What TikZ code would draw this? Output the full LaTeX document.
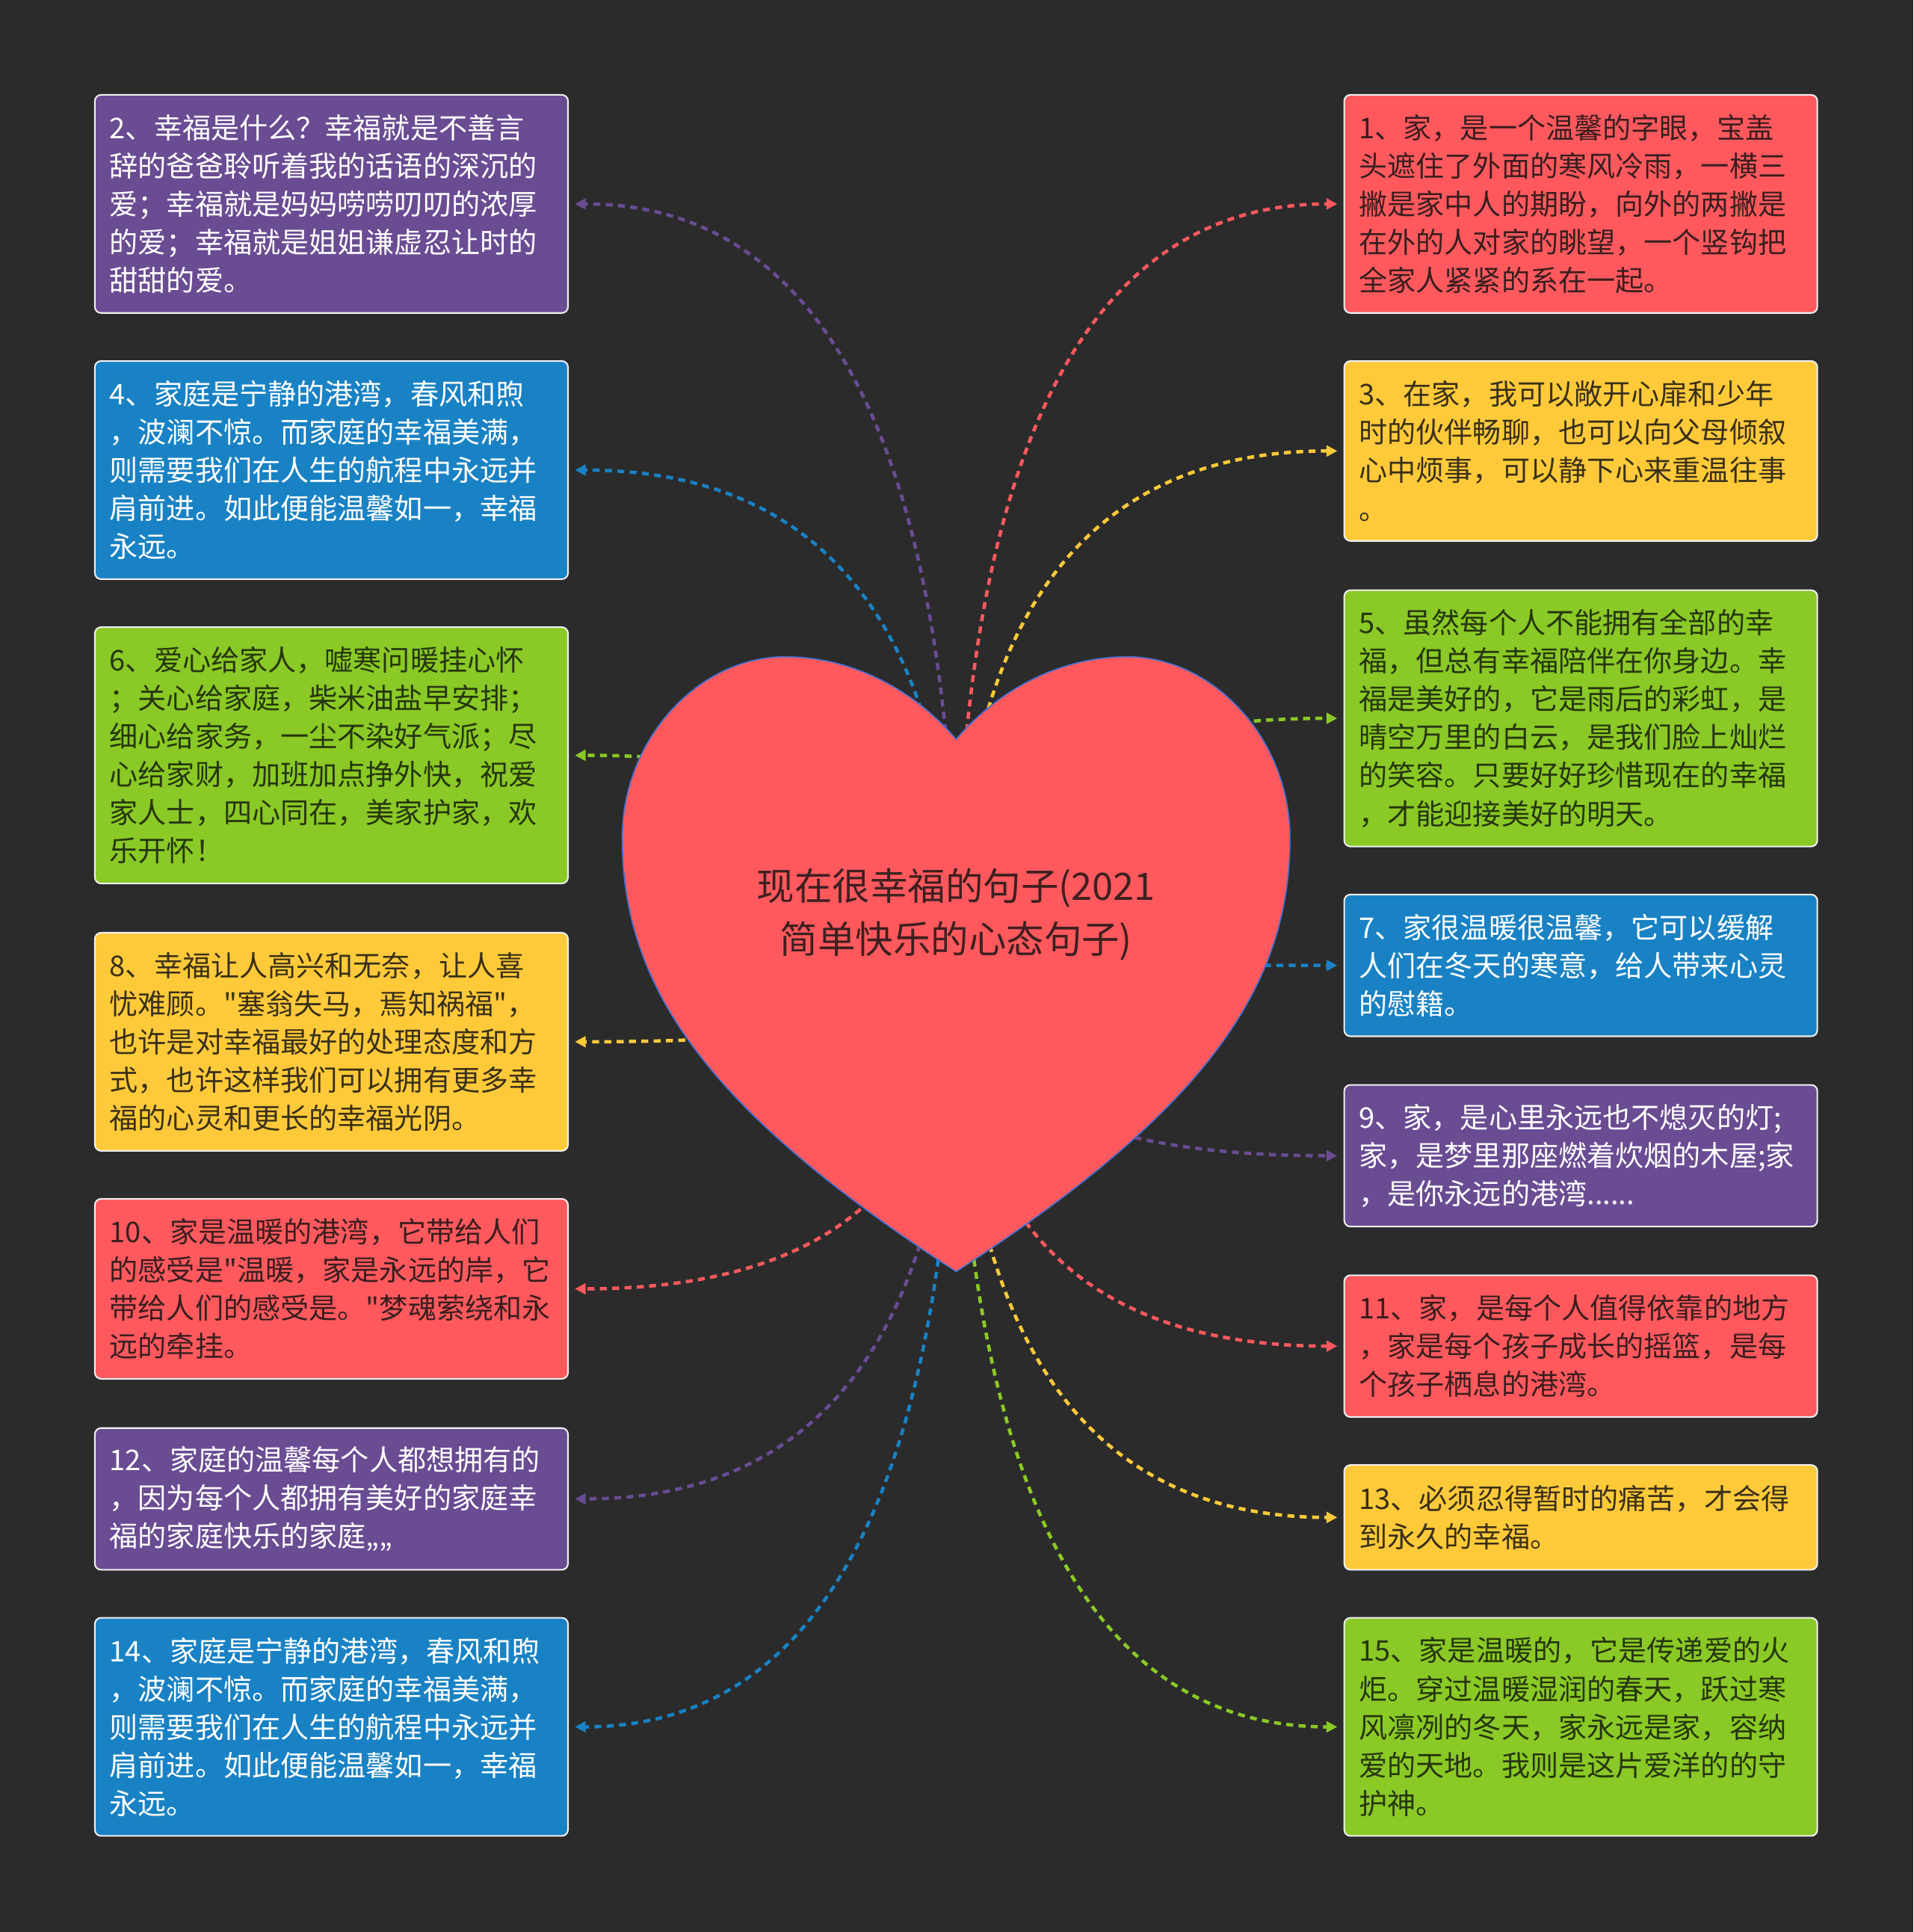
\documentclass[tikz,border=0pt]{standalone}
\usepackage{fontspec}
\usetikzlibrary{calc,arrows.meta}
\newfontfamily\cjk{Noto Sans CJK SC}
\definecolor{bgc}{HTML}{2B2B2B}
\definecolor{cred}{HTML}{FF595E}
\definecolor{cyel}{HTML}{FFCA3A}
\definecolor{cgrn}{HTML}{8AC926}
\definecolor{cblu}{HTML}{1982C4}
\definecolor{cpur}{HTML}{6A4C93}
\definecolor{tred}{HTML}{3A1E1E}
\definecolor{tyel}{HTML}{3A3018}
\definecolor{tgrn}{HTML}{26360E}
\definecolor{ttitle}{HTML}{3E2020}
\definecolor{hline}{HTML}{3F6FD0}
\pgfdeclarelayer{bg}
\pgfdeclarelayer{mid}
\pgfsetlayers{bg,mid,main}
\begin{document}
\begin{tikzpicture}[x=0.8pt,y=-0.8pt,
  box/.style={rectangle, rounded corners=4pt, draw=white!94!black, line width=1pt,
    minimum width=307.2pt, text width=288pt, align=left, inner sep=0pt,
    font={\cjk\fontsize{18.5pt}{24.8pt}\selectfont}},
  lt/.style={text=white},
  conn/.style={line width=2.2pt, dash pattern=on 4.5pt off 3.5pt,
    -{Triangle[length=7pt,width=7pt]}},
  titlestyle/.style={align=center, text=ttitle, inner sep=0pt,
    font={\cjk\fontsize{24.5pt}{34.4pt}\selectfont}}
]
\useasboundingbox (0,0) rectangle (1553,1568);
\begin{pgfonlayer}{bg}
\fill[bgc] (0,0) rectangle (1553,1568);
\end{pgfonlayer}

\coordinate (H) at (776,783);

% left boxes
\node[box, lt, fill=cpur, minimum height=141.6pt] (L2) at (269,165.5) {2、幸福是什么？幸福就是不善言\\辞的爸爸聆听着我的话语的深沉的\\爱；幸福就是妈妈唠唠叨叨的浓厚\\的爱；幸福就是姐姐谦虚忍让时的\\甜甜的爱。};
\node[box, lt, fill=cblu, minimum height=141.6pt] (L4) at (269,381.5) {4、家庭是宁静的港湾，春风和煦\\，波澜不惊。而家庭的幸福美满，\\则需要我们在人生的航程中永远并\\肩前进。如此便能温馨如一，幸福\\永远。};
\node[box, text=tgrn, fill=cgrn, minimum height=166.4pt] (L6) at (269,613) {6、爱心给家人，嘘寒问暖挂心怀\\；关心给家庭，柴米油盐早安排；\\细心给家务，一尘不染好气派；尽\\心给家财，加班加点挣外快，祝爱\\家人士，四心同在，美家护家，欢\\乐开怀！};
\node[box, text=tyel, fill=cyel, minimum height=141.6pt] (L8) at (269,845.5) {8、幸福让人高兴和无奈，让人喜\\忧难顾。"塞翁失马，焉知祸福"，\\也许是对幸福最好的处理态度和方\\式，也许这样我们可以拥有更多幸\\福的心灵和更长的幸福光阴。};
\node[box, text=tred, fill=cred, minimum height=116.8pt] (L10) at (269,1046) {10、家是温暖的港湾，它带给人们\\的感受是"温暖，家是永远的岸，它\\带给人们的感受是。"梦魂萦绕和永\\远的牵挂。};
\node[box, lt, fill=cpur, minimum height=92pt] (L12) at (269,1216.5) {12、家庭的温馨每个人都想拥有的\\，因为每个人都拥有美好的家庭幸\\福的家庭快乐的家庭„„};
\node[box, lt, fill=cblu, minimum height=141.6pt] (L14) at (269,1401.5) {14、家庭是宁静的港湾，春风和煦\\，波澜不惊。而家庭的幸福美满，\\则需要我们在人生的航程中永远并\\肩前进。如此便能温馨如一，幸福\\永远。};

% right boxes
\node[box, text=tred, fill=cred, minimum height=141.6pt] (R1) at (1283,165.5) {1、家，是一个温馨的字眼，宝盖\\头遮住了外面的寒风冷雨，一横三\\撇是家中人的期盼，向外的两撇是\\在外的人对家的眺望，一个竖钩把\\全家人紧紧的系在一起。};
\node[box, text=tyel, fill=cyel, minimum height=116.8pt] (R3) at (1283,366) {3、在家，我可以敞开心扉和少年\\时的伙伴畅聊，也可以向父母倾叙\\心中烦事，可以静下心来重温往事\\。};
\node[box, text=tgrn, fill=cgrn, minimum height=166.4pt] (R5) at (1283,583) {5、虽然每个人不能拥有全部的幸\\福，但总有幸福陪伴在你身边。幸\\福是美好的，它是雨后的彩虹，是\\晴空万里的白云，是我们脸上灿烂\\的笑容。只要好好珍惜现在的幸福\\，才能迎接美好的明天。};
\node[box, lt, fill=cblu, minimum height=92pt] (R7) at (1283,783.5) {7、家很温暖很温馨，它可以缓解\\人们在冬天的寒意，给人带来心灵\\的慰籍。};
\node[box, lt, fill=cpur, minimum height=92pt] (R9) at (1283,938) {9、家，是心里永远也不熄灭的灯;\\家，是梦里那座燃着炊烟的木屋;家\\，是你永远的港湾......};
\node[box, text=tred, fill=cred, minimum height=92pt] (R11) at (1283,1092.5) {11、家，是每个人值得依靠的地方\\，家是每个孩子成长的摇篮，是每\\个孩子栖息的港湾。};
\node[box, text=tyel, fill=cyel, minimum height=68pt] (R13) at (1283,1231.5) {13、必须忍得暂时的痛苦，才会得\\到永久的幸福。};
\node[box, text=tgrn, fill=cgrn, minimum height=141.6pt] (R15) at (1283,1401.5) {15、家是温暖的，它是传递爱的火\\炬。穿过温暖湿润的春天，跃过寒\\风凛冽的冬天，家永远是家，容纳\\爱的天地。我则是这片爱洋的的守\\护神。};

% connectors
\begin{pgfonlayer}{mid}
\foreach \n/\c in {L2/cpur, L4/cblu, L6/cgrn, L8/cyel, L10/cred, L12/cpur, L14/cblu} {
  \coordinate (e\n) at ([xshift=4pt]\n.east);
  \coordinate (q\n) at (H |- e\n);
  \draw[conn, draw=\c] (H) .. controls ($(H)!0.6667!(q\n)$) and ($(e\n)!0.6667!(q\n)$) .. (e\n);
}
\foreach \n/\c in {R1/cred, R3/cyel, R5/cgrn, R7/cblu, R9/cpur, R11/cred, R13/cyel, R15/cgrn} {
  \coordinate (e\n) at ([xshift=-4pt]\n.west);
  \coordinate (q\n) at (H |- e\n);
  \draw[conn, draw=\c] (H) .. controls ($(H)!0.6667!(q\n)$) and ($(e\n)!0.6667!(q\n)$) .. (e\n);
}
\end{pgfonlayer}

% heart
\path[fill=cred, draw=hline, line width=0.8pt]
  (776,600) .. controls (810,560) and (860,533) .. (915,533)
  .. controls (985,533) and (1047,600) .. (1047,680)
  .. controls (1047,800) and (980,900) .. (776,1032)
  .. controls (572,900) and (505,800) .. (505,680)
  .. controls (505,600) and (567,533) .. (637,533)
  .. controls (692,533) and (742,560) .. (776,600) -- cycle;
\node[titlestyle] (title) at (776,742) {现在很幸福的句子(2021\\简单快乐的心态句子)};
\end{tikzpicture}
\end{document}
